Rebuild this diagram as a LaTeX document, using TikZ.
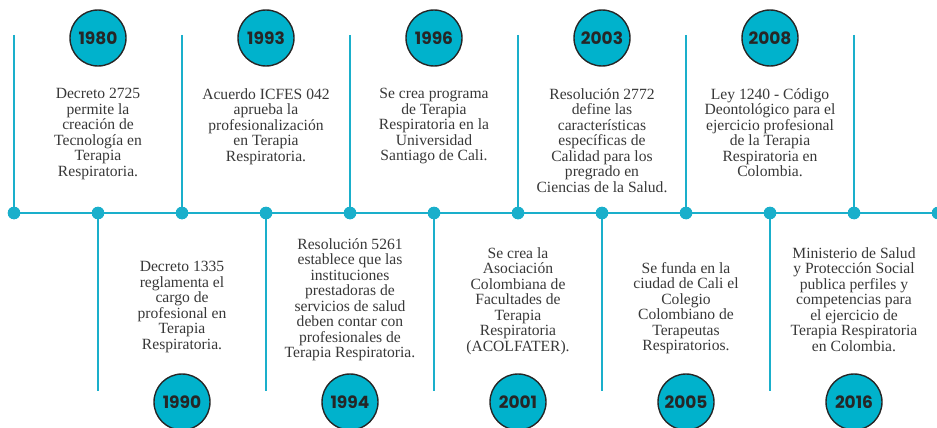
\documentclass[tikz,border=0pt]{standalone}
\usepackage{fontspec}
\setmainfont{Liberation Serif}
\newfontfamily\yearfont{Poppins}
\definecolor{tl}{HTML}{1AAFCB}
\definecolor{yc}{HTML}{00B2CC}
\definecolor{tx}{HTML}{383838}
\tikzset{
  tline/.style={draw=tl, line width=2.8pt},
  dot/.style={circle, fill=tl, inner sep=0pt, minimum size=12.5pt},
  yr/.style={circle, fill=yc, draw=black!85, line width=1.4pt, minimum size=56pt, inner sep=0pt, font=\yearfont\bfseries\fontsize{17}{17}\selectfont, text=black!85},
  desc/.style={align=center, text=tx, font=\fontsize{15.6}{15.5}\selectfont, inner sep=0pt}
}
\begin{document}
\begin{tikzpicture}[x=1pt,y=-1pt]
\useasboundingbox (0,0) rectangle (937,428);
\clip (0,0) rectangle (937,428);
% dots
\foreach \i in {0,...,11} {
  \node[dot] (d\i) at ({14+84*\i},213) {};
}
\draw[tline] (d0.center) -- (d11.center);
% upper verticals
\foreach \i in {0,2,4,6,8,10} {
  \coordinate (t\i) at ({14+84*\i},35);
  \draw[tline] (t\i) -- (d\i.center);
}
% lower verticals
\foreach \i in {1,3,5,7,9,11} {
  \coordinate (b\i) at ({14+84*\i},391);
  \draw[tline] (d\i.center) -- (b\i);
}
\foreach \i in {0,...,11} { \node[dot] at (d\i) {}; }
% upper years
\node[yr] (y1980) at (98,38) {1980};
\node[yr] (y1993) at (266,38) {1993};
\node[yr] (y1996) at (434,38) {1996};
\node[yr] (y2003) at (602,38) {2003};
\node[yr] (y2008) at (770,38) {2008};
% lower years
\node[yr] (y1990) at (182,402) {1990};
\node[yr] (y1994) at (350,402) {1994};
\node[yr] (y2001) at (518,402) {2001};
\node[yr] (y2005) at (686,402) {2005};
\node[yr] (y2016) at (854,402) {2016};
% upper texts
\node[desc, anchor=north] (x1980) at (98,88) {Decreto 2725\\permite la\\creación de\\Tecnología en\\Terapia\\Respiratoria.};
\node[desc, anchor=north] (x1993) at (266,88) {Acuerdo ICFES 042\\aprueba la\\profesionalización\\en Terapia\\Respiratoria.};
\node[desc, anchor=north] (x1996) at (434,88) {Se crea programa\\de Terapia\\Respiratoria en la\\Universidad\\Santiago de Cali.};
\node[desc, anchor=north] (x2003) at (602,88) {Resolución 2772\\define las\\características\\específicas de\\Calidad para los\\pregrado en\\Ciencias de la Salud.};
\node[desc, anchor=north] (x2008) at (770,88) {Ley 1240 - Código\\Deontológico para el\\ejercicio profesional\\de la Terapia\\Respiratoria en\\Colombia.};
% lower texts
\node[desc, anchor=north] (x1990) at (182,261) {Decreto 1335\\reglamenta el\\cargo de\\profesional en\\Terapia\\Respiratoria.};
\node[desc, anchor=north] (x1994) at (350,238) {Resolución 5261\\establece que las\\instituciones\\prestadoras de\\servicios de salud\\deben contar con\\profesionales de\\Terapia Respiratoria.};
\node[desc, anchor=north] (x2001) at (518,247) {Se crea la\\Asociación\\Colombiana de\\Facultades de\\Terapia\\Respiratoria\\(ACOLFATER).};
\node[desc, anchor=north] (x2005) at (686,262) {Se funda en la\\ciudad de Cali el\\Colegio\\Colombiano de\\Terapeutas\\Respiratorios.};
\node[desc, anchor=north] (x2016) at (854,247) {Ministerio de Salud\\y Protección Social\\publica perfiles y\\competencias para\\el ejercicio de\\Terapia Respiratoria\\en Colombia.};
\end{tikzpicture}
\end{document}
